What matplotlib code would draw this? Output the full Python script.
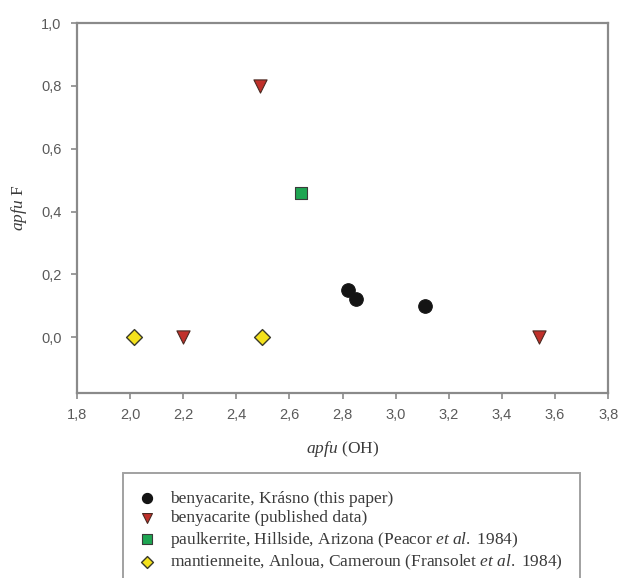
import matplotlib
matplotlib.use("Agg")
import matplotlib.pyplot as plt
import matplotlib.ticker as mtick

# Data: apfu (OH) vs apfu F
krasno_oh = [2.82, 2.85, 3.11]
krasno_f = [0.15, 0.12, 0.10]

published_oh = [2.49, 2.20, 3.54]
published_f = [0.80, 0.00, 0.00]

paulkerrite_oh = [2.645]
paulkerrite_f = [0.46]

mantienneite_oh = [2.015, 2.495]
mantienneite_f = [0.00, 0.00]

x_ticks = [1.8, 2.0, 2.2, 2.4, 2.6, 2.8, 3.0, 3.2, 3.4, 3.6, 3.8]
y_ticks = [0.0, 0.2, 0.4, 0.6, 0.8, 1.0]

labels = [
    "benyacarite, Krásno (this paper)",
    "benyacarite (published data)",
    r"paulkerrite, Hillside, Arizona (Peacor $\mathit{et\ al.}$ 1984)",
    r"mantienneite, Anloua, Cameroun (Fransolet $\mathit{et\ al.}$ 1984)",
]

plt.rcParams["mathtext.fontset"] = "custom"
plt.rcParams["mathtext.rm"] = "Liberation Serif"
plt.rcParams["mathtext.it"] = "Liberation Serif:italic"

SPINE = "#8a8a8a"
TICKTXT = "#5a5a5a"

fig = plt.figure(figsize=(6.2, 5.78), dpi=100)
ax = fig.add_axes([0.124, 0.320, 0.857, 0.640])

h1 = ax.scatter(krasno_oh, krasno_f, marker="o", s=95, c="#141414",
                edgecolors="#141414", linewidths=0.8, zorder=3)
h2 = ax.scatter(published_oh, published_f, marker="v", s=90, c="#c0302a",
                edgecolors="#4a2a22", linewidths=0.8, zorder=3)
h3 = ax.scatter(paulkerrite_oh, paulkerrite_f, marker="s", s=75, c="#1ea552",
                edgecolors="#3a3a3a", linewidths=0.8, zorder=3)
h4 = ax.scatter(mantienneite_oh, mantienneite_f, marker="D", s=65, c="#f4e21c",
                edgecolors="#3a3a2a", linewidths=1.0, zorder=3)

ax.set_xlim(1.8, 3.8)
ax.set_ylim(-0.178, 1.0)
ax.set_xticks(x_ticks)
ax.set_yticks(y_ticks)

comma = mtick.FuncFormatter(lambda v, pos: f"{v:.1f}".replace(".", ","))
ax.xaxis.set_major_formatter(comma)
ax.yaxis.set_major_formatter(comma)

for sp in ax.spines.values():
    sp.set_color(SPINE)
    sp.set_linewidth(1.6)

ax.tick_params(direction="out", length=4, width=1.2, color=SPINE,
               labelcolor=TICKTXT, labelsize=10.5, pad=7)
for t in ax.get_xticklabels() + ax.get_yticklabels():
    t.set_family("Liberation Sans")

ax.set_xlabel(r"$\mathit{apfu}$ (OH)", fontsize=12.5, family="Liberation Serif",
              color="#3a3a3a", labelpad=12)
ax.set_ylabel(r"$\mathit{apfu}$ F", fontsize=12.5, family="Liberation Serif",
              color="#3a3a3a", labelpad=9)

leg = fig.legend([h1, h2, h3, h4], labels, loc="upper left",
                 bbox_to_anchor=(123 / 620, 1 - 473 / 578),
                 prop={"family": "Liberation Serif", "size": 12.5},
                 frameon=True, fancybox=False, edgecolor=SPINE,
                 borderpad=1.0, handletextpad=0.9, labelspacing=0.2,
                 handlelength=0.8, borderaxespad=0, markerscale=0.75)
leg.get_frame().set_linewidth(1.4)
for t in leg.get_texts():
    t.set_color("#3a3a3a")

fig.savefig("out.png", dpi=100)
